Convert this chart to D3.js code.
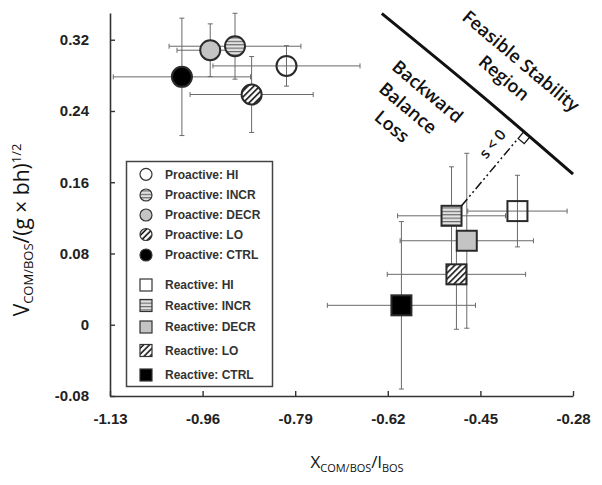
<!DOCTYPE html>
<html><head><meta charset="utf-8">
<script src="https://cdn.jsdelivr.net/npm/d3@7"></script>
<style>html,body{margin:0;padding:0;background:#fff;}</style>
</head><body>
<svg id="chart" width="602" height="485"></svg>
<script>
// ---- data ----
const conditions = ["HI", "INCR", "DECR", "LO", "CTRL"];
const proX    = [-0.806, -0.9005, -0.946, -0.870, -0.998];
const proXErr = [0.135, 0.121, 0.061, 0.113, 0.126];
const proY    = [0.2906, 0.3127, 0.3082, 0.2585, 0.2783];
const proYErr = [0.0227, 0.037, 0.0296, 0.0426, 0.0659];
const reaX    = [-0.382, -0.503, -0.475, -0.494, -0.595];
const reaXErr = [0.0912, 0.0991, 0.1224, 0.127, 0.136];
const reaY    = [0.1276, 0.1223, 0.0943, 0.0566, 0.0218];
const reaYErr = [0.0402, 0.055, 0.0982, 0.0617, 0.094];
const boundaryX = [-0.631, -0.451, -0.28];
const boundaryY = [0.3494, 0.2589, 0.1691];
const xTicks = [-1.13, -0.96, -0.79, -0.62, -0.45, -0.28];
const xTickLabels = ["-1.13", "-0.96", "-0.79", "-0.62", "-0.45", "-0.28"];
const yTicks = [-0.08, 0, 0.08, 0.16, 0.24, 0.32];
const yTickLabels = ["-0.08", "0", "0.08", "0.16", "0.24", "0.32"];
const fills = ["none", "url(#stripes)", "#c4c4c4", "url(#hatch)", "#000"];

const svg = d3.select("#chart");
const x = d3.scaleLinear().domain([-1.13, -0.28]).range([110, 573]);
const y = d3.scaleLinear().domain([-0.08, 0.35]).range([396, 13]);

// patterns
const defs = svg.append("defs");
const st = defs.append("pattern").attr("id", "stripes").attr("patternUnits", "userSpaceOnUse")
  .attr("width", 6).attr("height", 3.4);
st.append("rect").attr("width", 6).attr("height", 3.4).attr("fill", "#e2e2e2");
st.append("line").attr("x1", 0).attr("x2", 6).attr("y1", 0.6).attr("y2", 0.6).attr("stroke", "#555").attr("stroke-width", 1);
const ht = defs.append("pattern").attr("id", "hatch").attr("patternUnits", "userSpaceOnUse")
  .attr("width", 4.2).attr("height", 4.2).attr("patternTransform", "rotate(45)");
ht.append("rect").attr("width", 4.2).attr("height", 4.2).attr("fill", "#fff");
ht.append("line").attr("x1", 1).attr("x2", 1).attr("y1", 0).attr("y2", 4.2).attr("stroke", "#111").attr("stroke-width", 1.6);

const tickFont = "'Liberation Sans', Arial, sans-serif";
const annFont = "'Open Sans', 'Noto Sans', sans-serif";

// axes
const gx = svg.append("g").attr("transform", "translate(0,396)")
  .call(d3.axisBottom(x).tickValues(xTicks).tickFormat((d, i) => xTickLabels[i])
    .tickSizeInner(-5).tickSizeOuter(0).tickPadding(17));
const gy = svg.append("g").attr("transform", "translate(110,0)")
  .call(d3.axisLeft(y).tickValues(yTicks).tickFormat((d, i) => yTickLabels[i])
    .tickSizeInner(-5).tickSizeOuter(0).tickPadding(21));
[gx, gy].forEach(g => {
  g.select(".domain").attr("stroke", "#333").attr("stroke-width", 1.6);
  g.selectAll(".tick line").attr("stroke", "#333").attr("stroke-width", 1.4);
  g.selectAll(".tick text").attr("font-family", tickFont).attr("font-size", 15)
    .attr("font-weight", "bold").attr("fill", "#222");
});

// error bars
const cap = 2.5;
function errorBars(xs, xe, ys, ye) {
  const g = svg.append("g").attr("stroke", "#6a6a6a").attr("stroke-width", 1).attr("fill", "none");
  xs.forEach((xv, i) => {
    const cx = x(xv), cy = y(ys[i]);
    const x0 = x(xv - xe[i]), x1 = x(xv + xe[i]);
    const y0 = y(ys[i] + ye[i]), y1 = y(ys[i] - ye[i]);
    g.append("path").attr("d",
      `M${x0},${cy}H${x1}M${x0},${cy - cap}V${cy + cap}M${x1},${cy - cap}V${cy + cap}` +
      `M${cx},${y0}V${y1}M${cx - cap},${y0}H${cx + cap}M${cx - cap},${y1}H${cx + cap}`);
  });
}
errorBars(proX, proXErr, proY, proYErr);
errorBars(reaX, reaXErr, reaY, reaYErr);

// markers
svg.append("g").selectAll("circle").data(conditions).join("circle")
  .attr("cx", (d, i) => x(proX[i])).attr("cy", (d, i) => y(proY[i])).attr("r", 10)
  .attr("fill", (d, i) => fills[i]).attr("stroke", "#2a2a2a").attr("stroke-width", 2);
const sq = 20;
svg.append("g").selectAll("rect").data(conditions).join("rect")
  .attr("x", (d, i) => x(reaX[i]) - sq / 2).attr("y", (d, i) => y(reaY[i]) - sq / 2)
  .attr("width", sq).attr("height", sq)
  .attr("fill", (d, i) => fills[i]).attr("stroke", "#2a2a2a").attr("stroke-width", 2);

// boundary line
const bpts = boundaryX.map((v, i) => [x(v), y(boundaryY[i])]);
svg.append("path").attr("d", d3.line().curve(d3.curveNatural)(bpts))
  .attr("fill", "none").attr("stroke", "#111").attr("stroke-width", 3);

// perpendicular from reactive INCR square corner to boundary
const A = bpts[0], B = bpts[2];
const len = Math.hypot(B[0] - A[0], B[1] - A[1]);
const d = [(B[0] - A[0]) / len, (B[1] - A[1]) / len];
const n = [-d[1], d[0]];
const P = [x(reaX[1]) + sq / 2, y(reaY[1]) - sq / 2];
const t = (P[0] - A[0]) * d[0] + (P[1] - A[1]) * d[1];
const F = [A[0] + t * d[0], A[1] + t * d[1]];
const ms = 8;
const E = [F[0] + n[0] * ms, F[1] + n[1] * ms];
svg.append("path").attr("d", `M${P[0]},${P[1]}L${E[0]},${E[1]}`)
  .attr("stroke", "#111").attr("stroke-width", 1.5).attr("fill", "none")
  .attr("stroke-dasharray", "9,3,2,3,2,3");
const ang = Math.atan2(d[1], d[0]) * 180 / Math.PI;
svg.append("rect").attr("x", 0).attr("y", 0).attr("width", ms).attr("height", ms)
  .attr("transform", `translate(${F[0]},${F[1]}) rotate(${ang})`)
  .attr("fill", "#fff").attr("stroke", "#111").attr("stroke-width", 1.2);

// annotations
function rotText(txt, cx, cy, a, size) {
  svg.append("text").attr("transform", `translate(${cx},${cy}) rotate(${a})`)
    .attr("text-anchor", "middle").attr("dy", "0.35em")
    .attr("font-family", annFont).attr("font-size", size).attr("font-weight", 600)
    .attr("fill", "#111").text(txt);
}
rotText("Feasible Stability", 521, 61, ang, 18);
rotText("Region", 504, 78, ang, 18);
rotText("Backward", 427.5, 91.5, ang, 18);
rotText("Balance", 408, 108, ang, 18);
rotText("Loss", 392, 126.5, ang, 18);
const perpAng = Math.atan2(E[1] - P[1], E[0] - P[0]) * 180 / Math.PI;
rotText("s < 0", 492.5, 144, perpAng, 15);

// axis titles
const xt = svg.append("text").attr("x", 357).attr("y", 468).attr("text-anchor", "middle")
  .attr("font-family", annFont).attr("font-size", 17).attr("fill", "#111");
xt.append("tspan").text("X");
xt.append("tspan").attr("font-size", 11).attr("dy", 4).text("COM/BOS");
xt.append("tspan").attr("dy", -4).text("/l");
xt.append("tspan").attr("font-size", 11).attr("dy", 4).text("BOS");

const yt = svg.append("text").attr("transform", "translate(29,230) rotate(-90)").attr("text-anchor", "middle")
  .attr("font-family", annFont).attr("font-size", 21).attr("fill", "#111");
yt.append("tspan").text("V");
yt.append("tspan").attr("font-size", 13).attr("dy", 4).text("COM/BOS");
yt.append("tspan").attr("dy", -4).text("/(g \u00D7 bh)");
yt.append("tspan").attr("font-size", 13).attr("dy", -8).text("1/2");

// legend
const lg = svg.append("g");
lg.append("rect").attr("x", 126.5).attr("y", 161.5).attr("width", 146).attr("height", 225)
  .attr("fill", "#fff").attr("stroke", "#444").attr("stroke-width", 1.5);
const proRowY = [174.3, 195, 215, 234.5, 255];
const reaRowY = [285, 305.5, 327, 350.5, 375];
conditions.forEach((c, i) => {
  lg.append("circle").attr("cx", 146).attr("cy", proRowY[i]).attr("r", 6)
    .attr("fill", fills[i] === "none" ? "#fff" : fills[i]).attr("stroke", "#333").attr("stroke-width", 1.2);
  lg.append("text").attr("x", 165).attr("y", proRowY[i]).attr("dy", "0.36em")
    .attr("font-family", tickFont).attr("font-size", 12).attr("font-weight", "bold").attr("fill", "#333")
    .text("Proactive: " + c);
  lg.append("rect").attr("x", 140).attr("y", reaRowY[i] - 6).attr("width", 12).attr("height", 12)
    .attr("fill", fills[i] === "none" ? "#fff" : fills[i]).attr("stroke", "#333").attr("stroke-width", 1.2);
  lg.append("text").attr("x", 165).attr("y", reaRowY[i]).attr("dy", "0.36em")
    .attr("font-family", tickFont).attr("font-size", 12).attr("font-weight", "bold").attr("fill", "#333")
    .text("Reactive: " + c);
});
</script>
</body></html>
